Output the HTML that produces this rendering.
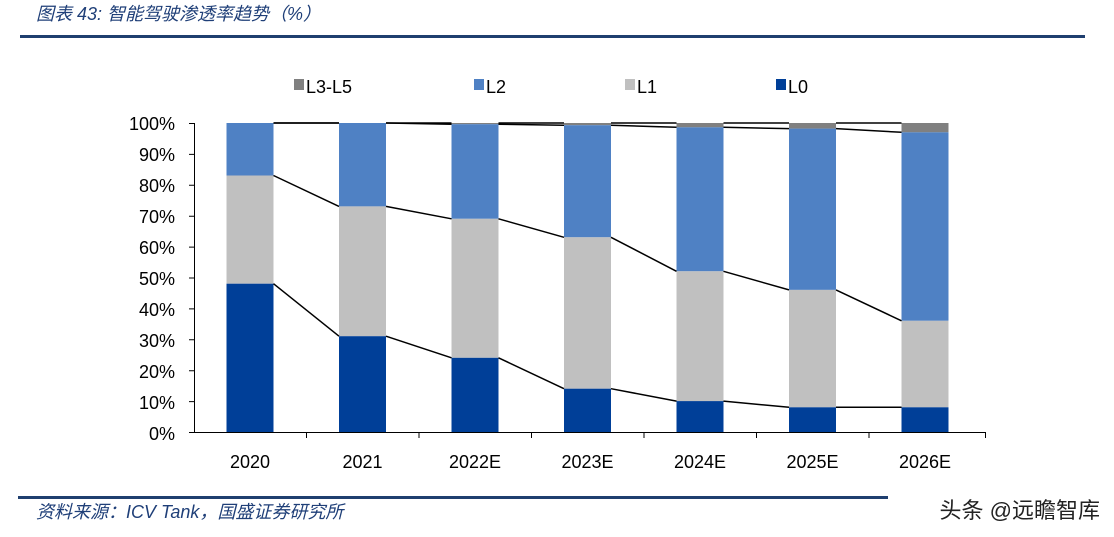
<!DOCTYPE html><html><head><meta charset="utf-8"><style>body{margin:0;background:#fff}svg{display:block}</style></head><body>
<svg width="1114" height="537" viewBox="0 0 1114 537" xmlns="http://www.w3.org/2000/svg" font-family="Liberation Sans, DejaVu Sans, sans-serif">
<text x="36" y="20" font-size="18" font-style="italic" fill="#1f3f78" font-family="Liberation Sans, Noto Sans CJK SC, sans-serif">图表 43:  智能驾驶渗透率趋势（%）</text>
<rect x="20" y="35" width="1065" height="3" fill="#1f3f6f"/>
<g font-size="18" fill="#000">
<rect x="294" y="79" width="10" height="11" fill="#808080"/><text x="306" y="93">L3-L5</text>
<rect x="474" y="79" width="10" height="11" fill="#4f81c4"/><text x="486" y="93">L2</text>
<rect x="625" y="79" width="10" height="11" fill="#c0c0c0"/><text x="637" y="93">L1</text>
<rect x="776" y="79" width="10" height="11" fill="#003f98"/><text x="788" y="93">L0</text>
</g>
<g font-size="18" text-anchor="end">
<text x="175" y="130">100%</text><text x="175" y="161">90%</text><text x="175" y="192">80%</text><text x="175" y="223">70%</text><text x="175" y="254">60%</text><text x="175" y="285">50%</text><text x="175" y="316">40%</text><text x="175" y="347">30%</text><text x="175" y="378">20%</text><text x="175" y="409">10%</text><text x="175" y="440">0%</text>
</g>
<g stroke="#000" stroke-width="1" fill="none">
<path d="M194.5 123V432M189 123.5h6M189 154.4h6M189 185.3h6M189 216.2h6M189 247.1h6M189 278h6M189 308.9h6M189 339.8h6M189 370.7h6M189 401.6h6M189 432.5h6"/>
<path d="M194 432.5H986M306.5 432v6M419 432v6M531.5 432v6M644 432v6M756.5 432v6M869 432v6M985.5 432v6"/>
</g>
<g>
<rect x="226.5" y="123" width="47" height="52.5" fill="#4f81c4"/><rect x="226.5" y="175.5" width="47" height="108.2" fill="#c0c0c0"/><rect x="226.5" y="283.7" width="47" height="148.3" fill="#003f98"/>
<rect x="339" y="123" width="47" height="83.4" fill="#4f81c4"/><rect x="339" y="206.4" width="47" height="129.8" fill="#c0c0c0"/><rect x="339" y="336.2" width="47" height="95.8" fill="#003f98"/>
<rect x="451.5" y="123" width="47" height="1.2" fill="#808080"/><rect x="451.5" y="124.2" width="47" height="94.6" fill="#4f81c4"/><rect x="451.5" y="218.8" width="47" height="139" fill="#c0c0c0"/><rect x="451.5" y="357.8" width="47" height="74.2" fill="#003f98"/>
<rect x="564" y="123" width="47" height="2.2" fill="#808080"/><rect x="564" y="125.2" width="47" height="112.1" fill="#4f81c4"/><rect x="564" y="237.3" width="47" height="151.4" fill="#c0c0c0"/><rect x="564" y="388.7" width="47" height="43.3" fill="#003f98"/>
<rect x="676.5" y="123" width="47" height="4.3" fill="#808080"/><rect x="676.5" y="127.3" width="47" height="144" fill="#4f81c4"/><rect x="676.5" y="271.3" width="47" height="129.8" fill="#c0c0c0"/><rect x="676.5" y="401.1" width="47" height="30.9" fill="#003f98"/>
<rect x="789" y="123" width="47" height="5.6" fill="#808080"/><rect x="789" y="128.6" width="47" height="161.3" fill="#4f81c4"/><rect x="789" y="289.9" width="47" height="117.4" fill="#c0c0c0"/><rect x="789" y="407.3" width="47" height="24.7" fill="#003f98"/>
<rect x="901.5" y="123" width="47" height="9.3" fill="#808080"/><rect x="901.5" y="132.3" width="47" height="188.5" fill="#4f81c4"/><rect x="901.5" y="320.8" width="47" height="86.5" fill="#c0c0c0"/><rect x="901.5" y="407.3" width="47" height="24.7" fill="#003f98"/>
</g>
<g stroke="#000" stroke-width="1.5" fill="none">
<path d="M273.5 123L339 123M386 123L451.5 123M498.5 123L564 123M611 123L676.5 123M723.5 123L789 123M836 123L901.5 123"/>
<path d="M273.5 123L339 123M386 123L451.5 124.2M498.5 124.2L564 125.2M611 125.2L676.5 127.3M723.5 127.3L789 128.6M836 128.6L901.5 132.3"/>
<path d="M273.5 175.5L339 206.4M386 206.4L451.5 218.8M498.5 218.8L564 237.3M611 237.3L676.5 271.3M723.5 271.3L789 289.9M836 289.9L901.5 320.8"/>
<path d="M273.5 283.7L339 336.2M386 336.2L451.5 357.8M498.5 357.8L564 388.7M611 388.7L676.5 401.1M723.5 401.1L789 407.3M836 407.3L901.5 407.3"/>
</g>
<g font-size="18" text-anchor="middle">
<text x="250" y="468">2020</text><text x="362.5" y="468">2021</text><text x="475" y="468">2022E</text><text x="587.5" y="468">2023E</text><text x="700" y="468">2024E</text><text x="812.5" y="468">2025E</text><text x="925" y="468">2026E</text>
</g>
<rect x="18" y="496" width="870" height="3" fill="#1f3f6f"/>
<text x="36" y="518" font-size="18" font-style="italic" fill="#1f3f78" font-family="Liberation Sans, Noto Sans CJK SC, sans-serif">资料来源：ICV Tank，国盛证券研究所</text>
<text x="1100" y="518" font-size="22" text-anchor="end" fill="#222" font-family="Liberation Sans, Noto Sans CJK SC, sans-serif">头条 @远瞻智库</text>
</svg>
</body></html>
